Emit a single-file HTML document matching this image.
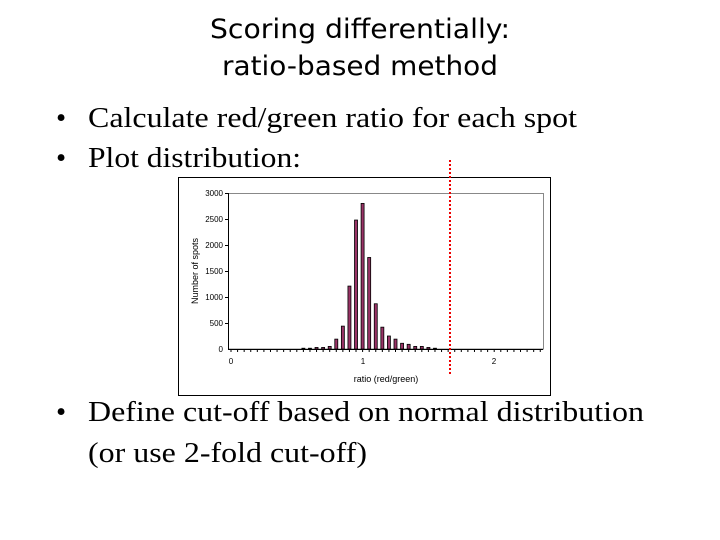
<!DOCTYPE html>
<html><head><meta charset="utf-8"><style>
html,body{margin:0;padding:0;background:#fff;width:720px;height:540px;overflow:hidden}
</style></head><body>
<svg width="720" height="540" viewBox="0 0 720 540" xmlns="http://www.w3.org/2000/svg">
<g font-family="'DejaVu Sans','Liberation Sans',sans-serif" font-size="27" fill="#000" text-anchor="middle">
<text x="360" y="38" textLength="300" lengthAdjust="spacingAndGlyphs">Scoring differentially:</text>
<text x="360" y="75" textLength="276" lengthAdjust="spacingAndGlyphs">ratio-based method</text>
</g>
<g font-family="'Liberation Serif',serif" font-size="29" fill="#000">
<text x="56" y="127">•</text>
<text x="88" y="127" textLength="489" lengthAdjust="spacingAndGlyphs">Calculate red/green ratio for each spot</text>
<text x="56" y="167">•</text>
<text x="88" y="167" textLength="213" lengthAdjust="spacingAndGlyphs">Plot distribution:</text>
<text x="56" y="421">•</text>
<text x="88" y="421" textLength="556" lengthAdjust="spacingAndGlyphs">Define cut-off based on normal distribution</text>
<text x="88" y="462" textLength="279" lengthAdjust="spacingAndGlyphs">(or use 2-fold cut-off)</text>
</g>
<rect x="178.5" y="177.5" width="372" height="218" fill="#fff" stroke="#000" stroke-width="1"/>
<rect x="228.5" y="193.5" width="315" height="155.5" fill="none" stroke="#888" stroke-width="1"/>
<line x1="228.5" y1="193" x2="228.5" y2="349" stroke="#000"/>
<line x1="228" y1="349.5" x2="543" y2="349.5" stroke="#000"/>
<g stroke="#000">
<line x1="225" y1="193.5" x2="228" y2="193.5"/><line x1="225" y1="219.5" x2="228" y2="219.5"/>
<line x1="225" y1="245.5" x2="228" y2="245.5"/><line x1="225" y1="271.5" x2="228" y2="271.5"/>
<line x1="225" y1="297.5" x2="228" y2="297.5"/><line x1="225" y1="323.5" x2="228" y2="323.5"/>
</g>
<g id="ticks" stroke="#000"></g>
<g font-family="'Liberation Sans',sans-serif" font-size="8" fill="#000" text-anchor="end">
<text x="223" y="196">3000</text><text x="223" y="222">2500</text><text x="223" y="248">2000</text>
<text x="223" y="274">1500</text><text x="223" y="300">1000</text><text x="223" y="326">500</text><text x="223" y="352">0</text>
</g>
<g font-family="'Liberation Sans',sans-serif" font-size="8" fill="#000" text-anchor="middle">
<text x="231" y="364">0</text><text x="363" y="364">1</text><text x="494" y="364">2</text>
<text x="386" y="382" font-size="9">ratio (red/green)</text>
<text transform="translate(198,271) rotate(-90)" font-size="9">Number of spots</text>
</g>
<g id="bars" fill="#993366" stroke="#000" stroke-width="0.8"></g>
<line x1="450" y1="160" x2="450" y2="376" stroke="#e00" stroke-width="2" stroke-dasharray="2,2"/>
<script>
var ns="http://www.w3.org/2000/svg";
var t=document.getElementById("ticks");
for(var i=0;i<=47;i++){var x=231+i*6.58;if(x>543)break;var l=document.createElementNS(ns,"line");
l.setAttribute("x1",x);l.setAttribute("x2",x);l.setAttribute("y1",349);l.setAttribute("y2",352);t.appendChild(l);}
var d=[[0.55,15],[0.6,15],[0.65,30],[0.7,30],[0.75,50],[0.8,190],[0.85,440],[0.9,1210],[0.95,2480],[1.0,2800],[1.05,1760],[1.1,870],[1.15,420],[1.2,250],[1.25,190],[1.3,110],[1.35,90],[1.4,50],[1.45,50],[1.5,30],[1.55,15]];
var b=document.getElementById("bars");
d.forEach(function(p){var x=231+p[0]*131.6;var h=p[1]*0.052;var r=document.createElementNS(ns,"rect");
r.setAttribute("x",x-1.5);r.setAttribute("width",3);r.setAttribute("y",349-h);r.setAttribute("height",h);b.appendChild(r);});
</script>
</svg>
</body></html>
